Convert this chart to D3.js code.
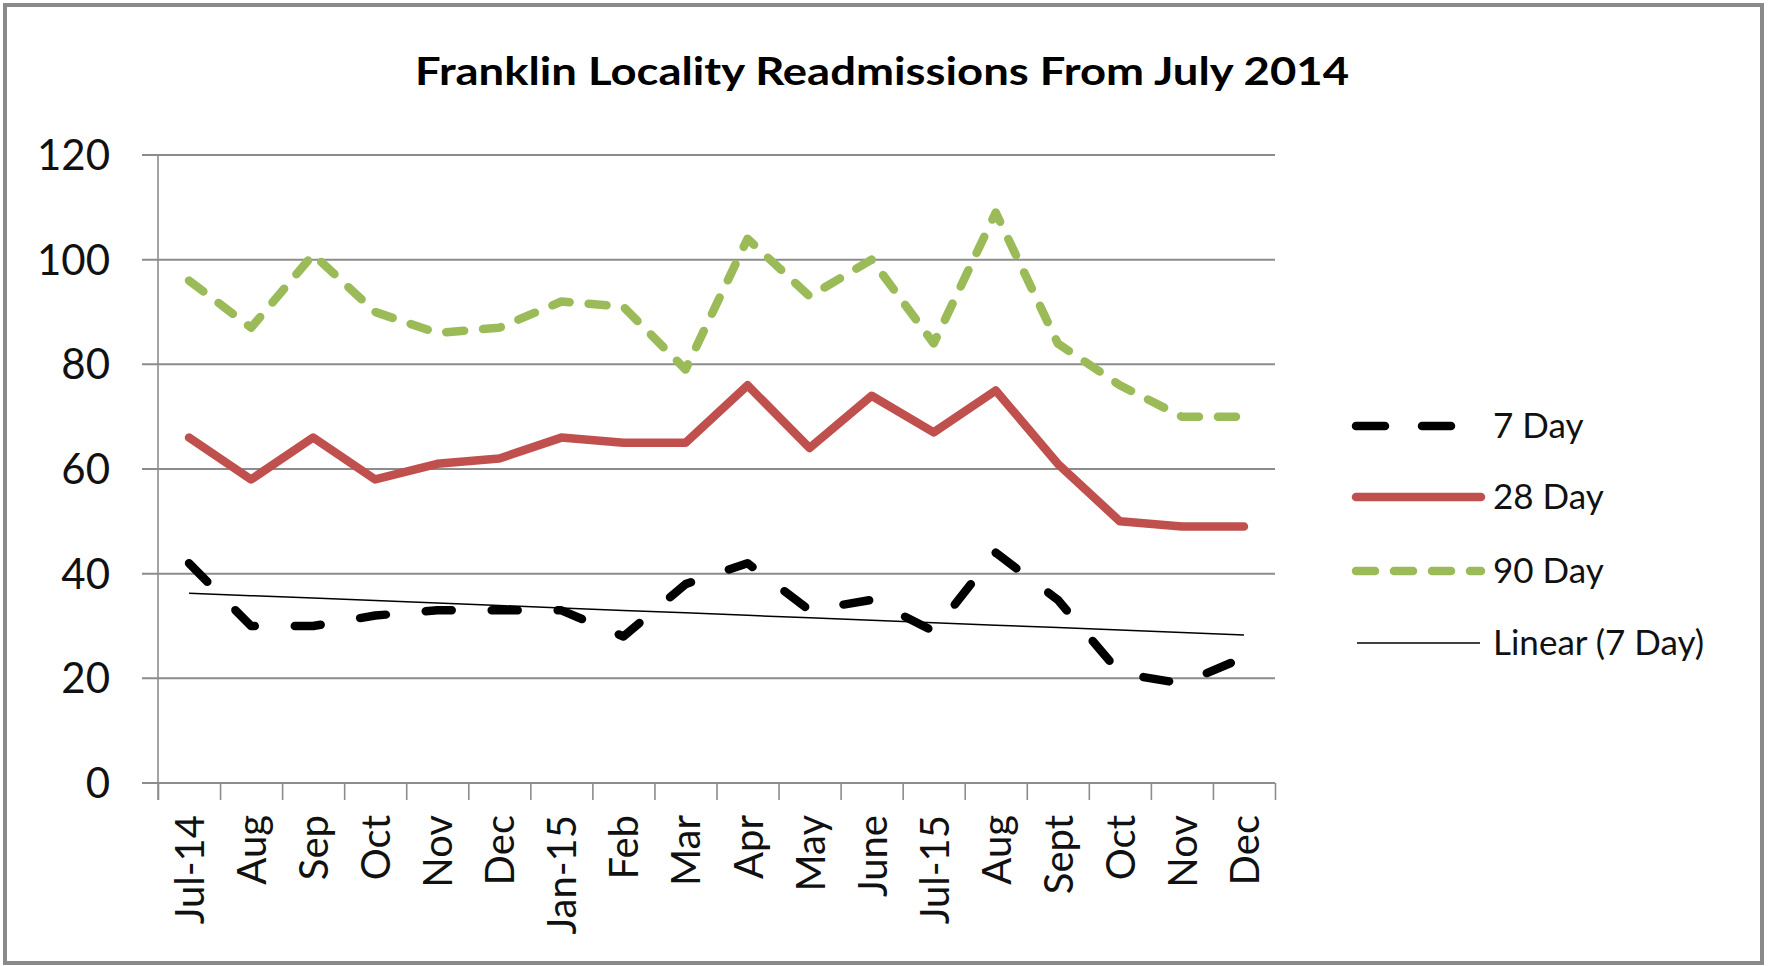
<!DOCTYPE html>
<html>
<head>
<meta charset="utf-8">
<script src="https://cdn.jsdelivr.net/npm/d3@7"></script>
<style>
  html, body { margin: 0; padding: 0; background: #fff; }
  svg { display: block; }
  text { font-family: Lato, "Open Sans", sans-serif; }
</style>
</head>
<body>
<svg id="chart" width="1769" height="966"></svg>
<script>
// ---------- data ----------
const title = "Franklin Locality Readmissions From July 2014";
const categories = ["Jul-14","Aug","Sep","Oct","Nov","Dec","Jan-15","Feb","Mar","Apr","May","June","Jul-15","Aug","Sept","Oct","Nov","Dec"];
const day7  = [42,30,30,32,33,33,33,28,38,42,33,35,29,44,35,21,19,24];
const day28 = [66,58,66,58,61,62,66,65,65,76,64,74,67,75,61,50,49,49];
const day90 = [96,87,101,90,86,87,92,91,79,104,93,100,84,109,84,76,70,70];
const yTicks = [0,20,40,60,80,100,120];
const seriesNames = ["7 Day","28 Day","90 Day","Linear (7 Day)"];

// ---------- layout ----------
const W = 1769, H = 966;
const plot = { left: 158, right: 1275, top: 155, bottom: 783 };
const svg = d3.select("#chart");

svg.append("rect").attr("x", 0).attr("y", 0).attr("width", W).attr("height", H).attr("fill", "#fff");
svg.append("rect").attr("x", 5).attr("y", 5).attr("width", 1757).attr("height", 958)
  .attr("fill", "none").attr("stroke", "#8a8a8a").attr("stroke-width", 4);

const n = categories.length;
const xEdge = d3.scaleLinear().domain([0, n]).range([plot.left, plot.right]);
const xc = i => xEdge(i + 0.5);
const y = d3.scaleLinear().domain([0, 120]).range([plot.bottom, plot.top]);

// title
svg.append("text").attr("x", 882).attr("y", 85).attr("text-anchor", "middle")
  .attr("font-size", 39).attr("font-weight", "bold").attr("fill", "#000")
  .attr("textLength", 934).attr("lengthAdjust", "spacingAndGlyphs")
  .text(title);

// gridlines
svg.append("g").selectAll("line").data(yTicks).join("line")
  .attr("x1", plot.left - 16).attr("x2", plot.right)
  .attr("y1", d => y(d)).attr("y2", d => y(d))
  .attr("stroke", "#8c8c8c").attr("stroke-width", 2);

// y axis line
svg.append("line").attr("x1", plot.left).attr("x2", plot.left)
  .attr("y1", plot.top).attr("y2", plot.bottom + 17)
  .attr("stroke", "#8c8c8c").attr("stroke-width", 1.6);

// y labels
svg.append("g").selectAll("text").data(yTicks).join("text")
  .attr("x", 110).attr("y", d => y(d) + 15)
  .attr("text-anchor", "end").attr("font-size", 42).attr("fill", "#111")
  .text(d => d);

// x axis ticks
const xAxis = d3.axisBottom(xEdge).tickValues(d3.range(0, n + 1)).tickSize(17).tickFormat("");
const gx = svg.append("g").attr("transform", `translate(0,${plot.bottom})`).call(xAxis);
gx.select(".domain").remove();
gx.selectAll(".tick line").attr("stroke", "#8c8c8c").attr("stroke-width", 1.6);

// x labels rotated
svg.append("g").selectAll("text").data(categories).join("text")
  .attr("transform", (d, i) => `translate(${xc(i) + 15},815) rotate(-90)`)
  .attr("text-anchor", "end").attr("font-size", 40).attr("fill", "#111")
  .text(d => d);

// lines
const line = d3.line().x((d, i) => xc(i)).y(d => y(d));

svg.append("path").datum(day90).attr("d", line)
  .attr("fill", "none").attr("stroke", "#9BBB59").attr("stroke-width", 8.5)
  .attr("stroke-linecap", "round").attr("stroke-linejoin", "round")
  .attr("stroke-dasharray", "18,19");

svg.append("path").datum(day28).attr("d", line)
  .attr("fill", "none").attr("stroke", "#C0504D").attr("stroke-width", 8.5)
  .attr("stroke-linecap", "round").attr("stroke-linejoin", "round");

svg.append("path").datum(day7).attr("d", line)
  .attr("fill", "none").attr("stroke", "#000").attr("stroke-width", 8.5)
  .attr("stroke-linecap", "round").attr("stroke-linejoin", "round")
  .attr("stroke-dasharray", "26,40");

// linear trend of 7 Day (least squares)
const xs = d3.range(n);
const mx = d3.mean(xs), my = d3.mean(day7);
const slope = d3.sum(xs, i => (i - mx) * (day7[i] - my)) / d3.sum(xs, i => (i - mx) ** 2);
const trend = xs.map(i => my + slope * (i - mx));
svg.append("path").datum(trend).attr("d", line)
  .attr("fill", "none").attr("stroke", "#000").attr("stroke-width", 1.5);

// legend
const legendY = [426, 497, 571, 643];
const lg = svg.append("g");
const styles = [
  { stroke: "#000", w: 8.5, dash: "29,37", x1: 1356, x2: 1452, cap: "round" },
  { stroke: "#C0504D", w: 8.5, dash: null, x1: 1356, x2: 1481, cap: "round" },
  { stroke: "#9BBB59", w: 8.5, dash: "19,19", x1: 1356, x2: 1481, cap: "round" },
  { stroke: "#000", w: 1.5, dash: null, x1: 1357, x2: 1480, cap: "butt" }
];
seriesNames.forEach((name, k) => {
  const s = styles[k];
  const l = lg.append("line").attr("x1", s.x1).attr("x2", s.x2)
    .attr("y1", legendY[k]).attr("y2", legendY[k])
    .attr("stroke", s.stroke).attr("stroke-width", s.w).attr("stroke-linecap", s.cap);
  if (s.dash) l.attr("stroke-dasharray", s.dash);
  lg.append("text").attr("x", 1493).attr("y", legendY[k] + 12)
    .attr("font-size", 35).attr("fill", "#111").text(name);
});
</script>
</body>
</html>
